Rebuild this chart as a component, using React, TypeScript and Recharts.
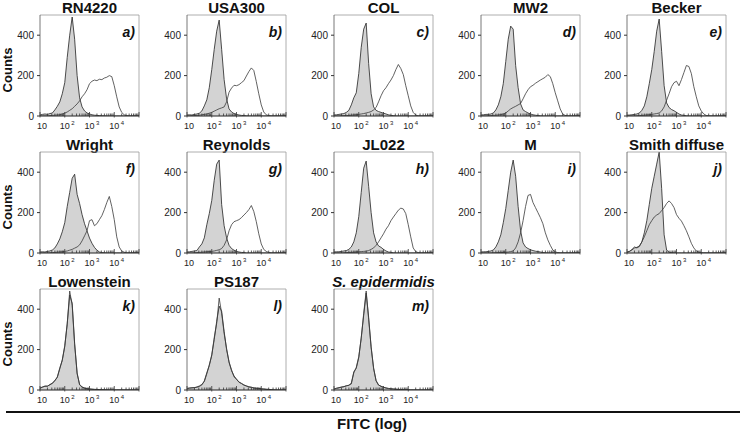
import React from "react";
import { Area, ComposedChart, Line, ReferenceLine, XAxis, YAxis } from "recharts";

// bin centres in log10(FITC) units, 10^1 .. 10^5
const bins = [
  1.0, 1.1, 1.2, 1.3, 1.4, 1.5, 1.6, 1.7, 1.8, 1.9,
  2.0, 2.1, 2.2, 2.3, 2.4, 2.5, 2.6, 2.7, 2.8, 2.9,
  3.0, 3.1, 3.2, 3.3, 3.4, 3.5, 3.6, 3.7, 3.8, 3.9,
  4.0, 4.1, 4.2, 4.3, 4.4, 4.5, 4.6, 4.7, 4.8, 4.9,
  5.0
];

// gray = control, stain = open histogram
const rn4220Ctrl = [5, 8, 10, 8, 12, 15, 30, 48, 70, 110, 165, 290, 400, 490, 380, 200, 90, 45, 25, 15, 10, 6, 4, 3, 2, 1, 1, 0, 0, 0, 0, 0, 0, 0, 0, 0, 0, 0, 0, 0, 0];
const rn4220Stain = [0, 0, 0, 0, 2, 3, 4, 5, 6, 10, 14, 20, 28, 36, 48, 60, 75, 95, 110, 130, 160, 172, 178, 175, 182, 180, 188, 192, 200, 195, 150, 95, 45, 18, 6, 2, 0, 0, 0, 0, 0];
const usa300Ctrl = [5, 6, 5, 8, 10, 14, 25, 50, 80, 140, 230, 330, 420, 475, 330, 180, 85, 35, 20, 12, 8, 5, 3, 2, 1, 0, 0, 0, 0, 0, 0, 0, 0, 0, 0, 0, 0, 0, 0, 0, 0];
const usa300Stain = [0, 0, 1, 2, 3, 4, 6, 8, 10, 14, 18, 24, 30, 36, 40, 45, 70, 118, 138, 152, 150, 155, 165, 175, 198, 220, 238, 225, 170, 110, 55, 20, 6, 2, 0, 0, 0, 0, 0, 0, 0];
const colCtrl = [5, 6, 8, 10, 12, 18, 28, 55, 90, 115, 210, 340, 430, 460, 260, 110, 45, 28, 22, 18, 14, 10, 6, 3, 2, 0, 0, 0, 0, 0, 0, 0, 0, 0, 0, 0, 0, 0, 0, 0, 0];
const colStain = [0, 0, 0, 1, 2, 2, 3, 4, 5, 6, 8, 10, 12, 15, 18, 22, 30, 42, 70, 100, 125, 140, 160, 178, 200, 230, 255, 235, 205, 150, 100, 50, 18, 5, 0, 0, 0, 0, 0, 0, 0];
const mw2Ctrl = [5, 6, 8, 8, 10, 15, 30, 55, 95, 160, 270, 380, 445, 430, 250, 140, 60, 30, 22, 15, 10, 6, 4, 2, 1, 0, 0, 0, 0, 0, 0, 0, 0, 0, 0, 0, 0, 0, 0, 0, 0];
const mw2Stain = [0, 0, 0, 1, 2, 3, 4, 5, 7, 10, 15, 25, 35, 42, 48, 55, 62, 85, 110, 130, 145, 152, 162, 170, 178, 185, 192, 205, 195, 160, 115, 75, 35, 10, 3, 0, 0, 0, 0, 0, 0];
const beckerCtrl = [4, 5, 6, 8, 10, 15, 28, 50, 95, 160, 230, 320, 420, 480, 320, 150, 65, 42, 32, 26, 18, 10, 5, 3, 1, 0, 0, 0, 0, 0, 0, 0, 0, 0, 0, 0, 0, 0, 0, 0, 0];
const beckerStain = [0, 0, 0, 0, 1, 2, 3, 4, 5, 6, 8, 10, 12, 15, 25, 45, 78, 110, 145, 165, 172, 150, 180, 215, 250, 245, 210, 145, 95, 50, 25, 10, 3, 0, 0, 0, 0, 0, 0, 0, 0];
const wrightCtrl = [5, 6, 5, 8, 10, 15, 25, 45, 70, 105, 150, 230, 300, 370, 390, 290, 245, 190, 145, 110, 74, 48, 28, 14, 5, 2, 1, 0, 0, 0, 0, 0, 0, 0, 0, 0, 0, 0, 0, 0, 0];
const wrightStain = [0, 0, 0, 0, 1, 2, 3, 4, 5, 6, 8, 10, 14, 18, 24, 30, 40, 60, 85, 110, 160, 165, 135, 145, 165, 185, 215, 250, 280, 230, 165, 80, 30, 10, 4, 0, 0, 0, 0, 0, 0];
const reynoldsCtrl = [5, 6, 8, 10, 12, 30, 45, 75, 140, 195, 260, 360, 440, 460, 240, 135, 75, 38, 22, 14, 8, 5, 3, 2, 0, 0, 0, 0, 0, 0, 0, 0, 0, 0, 0, 0, 0, 0, 0, 0, 0];
const reynoldsStain = [0, 0, 0, 1, 2, 3, 4, 5, 6, 7, 8, 10, 13, 16, 22, 38, 65, 110, 140, 155, 160, 165, 175, 188, 200, 215, 235, 205, 155, 95, 45, 18, 8, 3, 0, 0, 0, 0, 0, 0, 0];
const jl022Ctrl = [5, 6, 6, 8, 10, 12, 18, 30, 55, 100, 180, 300, 420, 455, 330, 200, 100, 55, 35, 28, 18, 10, 5, 3, 1, 0, 0, 0, 0, 0, 0, 0, 0, 0, 0, 0, 0, 0, 0, 0, 0];
const jl022Stain = [0, 0, 0, 0, 1, 2, 3, 3, 4, 5, 6, 7, 8, 9, 12, 18, 25, 38, 55, 75, 95, 118, 135, 160, 178, 195, 212, 222, 218, 195, 140, 80, 25, 7, 2, 0, 0, 0, 0, 0, 0];
const mCtrl = [5, 6, 6, 8, 10, 15, 30, 55, 90, 150, 220, 310, 400, 460, 380, 230, 110, 50, 30, 22, 16, 12, 9, 7, 5, 2, 1, 0, 0, 0, 0, 0, 0, 0, 0, 0, 0, 0, 0, 0, 0];
const mStain = [0, 0, 0, 0, 0, 1, 1, 2, 2, 3, 4, 5, 7, 10, 25, 55, 100, 160, 230, 285, 290, 250, 225, 200, 175, 145, 100, 65, 38, 15, 6, 2, 0, 0, 0, 0, 0, 0, 0, 0, 0];
const smithCtrl = [5, 8, 15, 25, 28, 35, 55, 100, 160, 240, 320, 380, 440, 500, 320, 90, 15, 4, 2, 0, 0, 0, 0, 0, 0, 0, 0, 0, 0, 0, 0, 0, 0, 0, 0, 0, 0, 0, 0, 0, 0];
const smithStain = [3, 8, 18, 30, 25, 32, 55, 80, 110, 140, 160, 178, 188, 195, 210, 225, 245, 258, 245, 225, 190, 172, 158, 135, 110, 80, 48, 25, 10, 4, 1, 0, 0, 0, 0, 0, 0, 0, 0, 0, 0];
const lowensteinCtrl = [10, 15, 18, 20, 25, 35, 45, 65, 105, 150, 215, 330, 470, 430, 230, 80, 28, 15, 9, 6, 5, 4, 3, 3, 2, 2, 1, 1, 0, 0, 0, 0, 0, 0, 0, 0, 0, 0, 0, 0, 0];
const lowensteinStain = [8, 14, 20, 18, 28, 32, 48, 62, 110, 145, 220, 325, 490, 420, 225, 85, 25, 14, 10, 6, 5, 4, 3, 2, 2, 1, 1, 0, 0, 0, 0, 0, 0, 0, 0, 0, 0, 0, 0, 0, 0];
const ps187Ctrl = [8, 10, 10, 12, 14, 18, 25, 45, 85, 120, 175, 250, 340, 415, 390, 290, 200, 140, 95, 70, 52, 40, 32, 25, 20, 16, 13, 10, 9, 8, 6, 5, 4, 3, 2, 1, 0, 0, 0, 0, 0];
const ps187Stain = [6, 9, 12, 11, 15, 20, 28, 42, 80, 125, 170, 260, 330, 455, 380, 280, 205, 135, 100, 65, 55, 38, 33, 24, 20, 15, 14, 10, 8, 8, 5, 5, 3, 3, 1, 0, 0, 0, 0, 0, 0];
const sepiCtrl = [5, 8, 12, 14, 17, 20, 24, 30, 90, 108, 160, 260, 370, 480, 360, 210, 110, 45, 25, 18, 14, 10, 8, 6, 5, 4, 3, 3, 2, 2, 1, 0, 0, 0, 0, 0, 0, 0, 0, 0, 0];
const sepiStain = [4, 9, 10, 15, 16, 22, 22, 35, 85, 112, 165, 255, 380, 490, 350, 215, 105, 48, 24, 19, 13, 10, 7, 6, 5, 4, 3, 2, 2, 1, 1, 0, 0, 0, 0, 0, 0, 0, 0, 0, 0];

const panels = [
  { title: "RN4220", tag: "a)", ctrl: rn4220Ctrl, stain: rn4220Stain, col: 0, row: 0 },
  { title: "USA300", tag: "b)", ctrl: usa300Ctrl, stain: usa300Stain, col: 1, row: 0 },
  { title: "COL", tag: "c)", ctrl: colCtrl, stain: colStain, col: 2, row: 0 },
  { title: "MW2", tag: "d)", ctrl: mw2Ctrl, stain: mw2Stain, col: 3, row: 0 },
  { title: "Becker", tag: "e)", ctrl: beckerCtrl, stain: beckerStain, col: 4, row: 0 },
  { title: "Wright", tag: "f)", ctrl: wrightCtrl, stain: wrightStain, col: 0, row: 1 },
  { title: "Reynolds", tag: "g)", ctrl: reynoldsCtrl, stain: reynoldsStain, col: 1, row: 1 },
  { title: "JL022", tag: "h)", ctrl: jl022Ctrl, stain: jl022Stain, col: 2, row: 1 },
  { title: "M", tag: "i)", ctrl: mCtrl, stain: mStain, col: 3, row: 1 },
  { title: "Smith diffuse", tag: "j)", ctrl: smithCtrl, stain: smithStain, col: 4, row: 1 },
  { title: "Lowenstein", tag: "k)", ctrl: lowensteinCtrl, stain: lowensteinStain, col: 0, row: 2 },
  { title: "PS187", tag: "l)", ctrl: ps187Ctrl, stain: ps187Stain, col: 1, row: 2 },
  { title: "S. epidermidis", tag: "m)", ctrl: sepiCtrl, stain: sepiStain, col: 2, row: 2, italic: true }
];

const yTicks = [0, 200, 400];
const decades = [1, 2, 3, 4];
const minorSteps = [2, 3, 4, 5, 6, 7, 8, 9];
const xTicks = [...decades, 5, ...decades.flatMap((d) => minorSteps.map((m) => d + Math.log10(m)))];

const colLeft = [40, 187, 334, 481, 627];
const rowTop = [15, 152, 289];
const PLOT_W = 99;
const PLOT_H = 101;
const Y_AXIS_W = 34;
const TOP_PAD = 4;
const FONT = '"Liberation Sans", Arial, sans-serif';

function LogTick(props: any) {
  const { x, y, payload } = props;
  const v = payload.value;
  const major = Math.abs(v - Math.round(v)) < 1e-6;
  const exp = Math.round(v);
  return (
    <g>
      <line x1={x} x2={x} y1={y + (major ? 1.5 : 0)} y2={y - (major ? 4 : 2.5)} stroke="#333" strokeWidth={0.8} />
      {major && exp < 5 && (
        <text x={x - (exp === 1 ? 3 : 5)} y={y + 13} fontSize={9} fill="#222" textAnchor="start">
          10
          {exp > 1 && (
            <tspan dx={1.5} dy={-4} fontSize={6}>
              {exp}
            </tspan>
          )}
        </text>
      )}
    </g>
  );
}

function Panel({ p }: { p: any }) {
  const data = bins.map((x, i) => ({ x, ctrl: p.ctrl[i], stain: p.stain[i] }));
  const left = colLeft[p.col];
  const top = rowTop[p.row];
  return (
    <>
      <div
        style={{
          position: "absolute",
          left: left - 20,
          top: top - 15,
          width: PLOT_W + 40,
          textAlign: "center",
          fontWeight: "bold",
          fontStyle: p.italic ? "italic" : "normal",
          fontSize: 15,
          lineHeight: "15px",
          color: "#111"
        }}
      >
        {p.title}
      </div>
      <div style={{ position: "absolute", left: left - Y_AXIS_W, top: top - TOP_PAD }}>
        <ComposedChart
          width={Y_AXIS_W + PLOT_W + 6}
          height={TOP_PAD + PLOT_H + 18}
          data={data}
          margin={{ top: TOP_PAD, right: 6, left: 0, bottom: 0 }}
        >
          <XAxis
            type="number"
            dataKey="x"
            domain={[1, 5]}
            ticks={xTicks}
            interval={0}
            tickSize={0}
            tickMargin={0}
            tickLine={false}
            tick={<LogTick />}
            axisLine={{ stroke: "#222", strokeWidth: 1 }}
            height={18}
            allowDataOverflow
          />
          <YAxis
            type="number"
            domain={[0, 500]}
            ticks={yTicks}
            width={Y_AXIS_W}
            tickSize={3}
            tickMargin={3}
            tickLine={{ stroke: "#333" }}
            axisLine={{ stroke: "#555", strokeWidth: 0.8 }}
            tick={{ fill: "#222", fontSize: 10 }}
            allowDataOverflow
          />
          <ReferenceLine y={500} stroke="#9a9a9a" strokeWidth={0.8} />
          <ReferenceLine x={5} stroke="#9a9a9a" strokeWidth={0.8} />
          <Area
            type="linear"
            dataKey="ctrl"
            fill="#d3d3d3"
            fillOpacity={1}
            stroke="#222"
            strokeWidth={0.8}
            dot={false}
            activeDot={false}
            isAnimationActive={false}
          />
          <Line
            type="linear"
            dataKey="stain"
            stroke="#3a3a3a"
            strokeWidth={0.8}
            dot={false}
            activeDot={false}
            isAnimationActive={false}
          />
        </ComposedChart>
      </div>
      <div
        style={{
          position: "absolute",
          left: left,
          top: top + 9,
          width: PLOT_W - 4,
          textAlign: "right",
          fontWeight: "bold",
          fontStyle: "italic",
          fontSize: 14,
          lineHeight: "16px",
          color: "#111"
        }}
      >
        {p.tag}
      </div>
    </>
  );
}

export default function App() {
  return (
    <div
      style={{
        position: "absolute",
        left: 0,
        top: 0,
        width: 740,
        height: 433,
        background: "#fff",
        fontFamily: FONT,
        overflow: "hidden"
      }}
    >
      {rowTop.map((t, i) => (
        <div
          key={i}
          style={{
            position: "absolute",
            left: -22,
            top: t + PLOT_H / 2 + 4 - 8,
            width: 60,
            height: 16,
            lineHeight: "16px",
            textAlign: "center",
            fontWeight: "bold",
            fontSize: 13,
            color: "#111",
            transform: "rotate(-90deg)"
          }}
        >
          Counts
        </div>
      ))}
      {panels.map((p) => (
        <Panel key={p.tag} p={p} />
      ))}
      <div style={{ position: "absolute", left: 6, top: 411, width: 734, height: 2, background: "#111" }} />
      <div
        style={{
          position: "absolute",
          left: 272,
          top: 416,
          width: 200,
          textAlign: "center",
          fontWeight: "bold",
          fontSize: 15,
          lineHeight: "16px",
          color: "#111"
        }}
      >
        FITC (log)
      </div>
    </div>
  );
}
